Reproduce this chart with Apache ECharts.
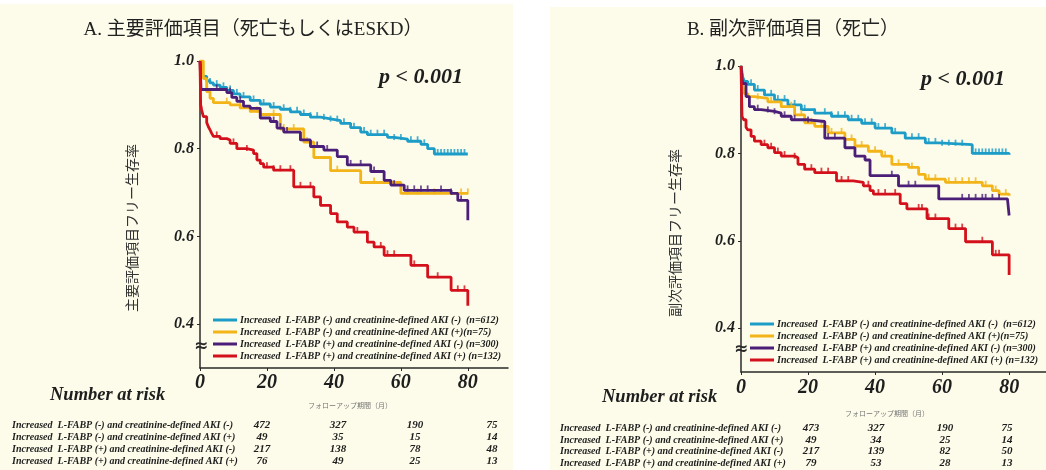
<!DOCTYPE html>
<html><head><meta charset="utf-8">
<script src="https://cdn.jsdelivr.net/npm/echarts@6/dist/echarts.min.js"></script>
<style>html,body{margin:0;padding:0;background:#fff}#c{width:1046px;height:470px}</style>
</head><body><div id="c"></div>
<script>
// ---------- data ----------
const titleA = 'A. 主要評価項目（死亡もしくはESKD）';
const titleB = 'B. 副次評価項目（死亡）';
const yNameA = '主要評価項目フリー生存率';
const yNameB = '副次評価項目フリー生存率';
const xName = 'フォローアップ期間（月）';
const pText = 'p < 0.001';
const legendNames = [
  'Increased  L-FABP (-) and creatinine-defined AKI (-)  (n=612)',
  'Increased  L-FABP (-) and creatinine-defined AKI (+)(n=75)',
  'Increased  L-FABP (+) and creatinine-defined AKI (-) (n=300)',
  'Increased  L-FABP (+) and creatinine-defined AKI (+) (n=132)'
];
const riskLabels = [
  'Increased  L-FABP (-) and creatinine-defined AKI (-)',
  'Increased  L-FABP (-) and creatinine-defined AKI (+)',
  'Increased  L-FABP (+) and creatinine-defined AKI (-)',
  'Increased  L-FABP (+) and creatinine-defined AKI (+)'
];
const xTicks = [0, 20, 40, 60, 80];
const yTicks = [0.4, 0.6, 0.8, 1.0];
const riskA = [[472, 327, 190, 75], [49, 35, 15, 14], [217, 138, 78, 48], [76, 49, 25, 13]];
const riskB = [[473, 327, 190, 75], [49, 34, 25, 14], [217, 139, 82, 50], [79, 53, 28, 13]];

// Kaplan-Meier steps [month, survival]
const A_blue = [[0,1],[0.5,0.975],[1,0.965],[2,0.955],[3,0.95],[4,0.945],[6,0.94],[8,0.933],[10,0.925],[12,0.918],[15,0.91],[18,0.902],[21,0.895],[24,0.89],[27,0.884],[30,0.878],[33,0.872],[36,0.868],[39,0.864],[42,0.858],[45,0.848],[48,0.838],[50,0.832],[56,0.826],[58,0.822],[62,0.817],[66,0.81],[68,0.8],[70,0.788],[80,0.788]];
const A_yellow = [[0,1],[1,0.96],[2,0.93],[3,0.915],[4,0.905],[9,0.9],[12,0.893],[15,0.885],[18,0.878],[24,0.845],[31,0.815],[34,0.78],[39,0.75],[48,0.723],[60,0.698],[80,0.698]];
const A_purple = [[0,1],[0.3,0.935],[8,0.928],[9.5,0.917],[11,0.908],[13,0.897],[15,0.892],[18,0.87],[21,0.862],[23,0.847],[25,0.838],[30,0.82],[33,0.805],[37,0.797],[41,0.782],[44,0.763],[51,0.748],[55,0.728],[57,0.717],[61,0.705],[75,0.698],[77,0.682],[80,0.637]];
const A_red = [[0,1],[0.2,0.9],[0.5,0.888],[1,0.873],[2,0.86],[2.5,0.85],[3,0.843],[3.5,0.835],[4,0.828],[6,0.823],[8,0.82],[9,0.812],[11,0.8],[14,0.797],[16,0.789],[17,0.774],[18,0.766],[19,0.758],[22,0.751],[28,0.713],[34,0.69],[36,0.671],[39,0.652],[41,0.633],[44,0.621],[46,0.61],[50,0.587],[52,0.576],[55,0.557],[63,0.534],[68,0.507],[75,0.477],[80,0.442]];

const B_blue = [[0,1],[0.5,0.975],[1,0.965],[2,0.958],[4,0.945],[7,0.934],[10,0.922],[14,0.911],[18,0.9],[22,0.892],[27,0.885],[32,0.877],[36,0.869],[40,0.858],[45,0.847],[49,0.835],[55,0.824],[59,0.82],[69,0.8],[80,0.797]];
const B_yellow = [[0,1],[0.5,0.96],[1,0.937],[2,0.93],[4,0.926],[8,0.918],[12,0.907],[16,0.888],[19,0.87],[22,0.862],[26,0.847],[31,0.832],[34,0.817],[38,0.805],[42,0.794],[45,0.775],[50,0.768],[53,0.752],[55,0.741],[61,0.734],[72,0.726],[75,0.715],[77,0.707],[80,0.703]];
const B_purple = [[0,1],[0.5,0.96],[1.5,0.93],[2.5,0.907],[4,0.9],[6,0.896],[10,0.892],[12,0.885],[15,0.877],[20,0.873],[25,0.835],[31,0.813],[34,0.794],[37,0.785],[38.5,0.749],[47,0.726],[59,0.696],[79.5,0.692],[80,0.658]];
const B_red = [[0,1],[0.3,0.885],[0.8,0.877],[1.5,0.86],[2,0.854],[3,0.839],[4,0.828],[6,0.82],[8,0.813],[10,0.802],[12,0.794],[16,0.79],[17,0.775],[19,0.764],[22,0.756],[28.5,0.737],[33.5,0.734],[36.5,0.726],[38.5,0.715],[39.5,0.707],[47.5,0.685],[49.5,0.673],[55.5,0.651],[62,0.628],[67,0.598],[75,0.568],[80,0.522]];

// censoring times (months)
const A_blue_c = [3,5,7,9,11,13,16,19,22,25,27,29,31,33,35,37,39,41,43,46,49,51,53,55,58,60,63,65,67,71,72,73,74,75,76,77,78,79];
const A_yellow_c = [8,12,15,17,22,25,28,32,41,48,52,55,62,65,70,78,80];
const A_purple_c = [5,9,12,18,22,24,26,30,33,35,38,45,48,52,58,62,64,66,68,72,75,78];
const A_red_c = [5,10,14,20,22,24,27,30,33,36,47,52,54,56,58,64,71,77,79];
const B_blue_c = [3,5,7,9,11,13,16,19,22,25,27,29,31,33,35,37,39,41,43,46,49,51,53,56,58,60,62,64,66,70,71,72,73,74,75,76,77,78,79];
const B_yellow_c = [5,9,12,15,18,21,24,27,30,33,36,40,43,47,51,56,58,62,64,66,68,70,73,76,79];
const B_purple_c = [5,8,10,13,16,20,26,28,45,47,50,52,66,68,70,72,73,75,77];
const B_red_c = [7,9,11,13,16,19,21,24,26,30,32,38,41,43,46,53,54,56,58,64,66,72,76,77];

// ---------- styles ----------
const colors = ['#1d9cc8', '#f2b418', '#4b1f78', '#d3101b'];
const cream = '#fdfcea';
const serifBI = {fontFamily: 'Liberation Serif', fontWeight: 'bold', fontStyle: 'italic', color: '#1e1e1e'};
const cjk = "'Liberation Serif','Noto Sans CJK JP'";

function survAt(d, t) { let s = d[0][1]; for (const p of d) { if (p[0] <= t) s = p[1]; } return s; }

const curvesA = [A_blue, A_yellow, A_purple, A_red];
const curvesB = [B_blue, B_yellow, B_purple, B_red];
const censA = [A_blue_c, A_yellow_c, A_purple_c, A_red_c];
const censB = [B_blue_c, B_yellow_c, B_purple_c, B_red_c];

const series = [];
[[curvesA, censA, 0], [curvesB, censB, 1]].forEach(([curves, cens, gi]) => {
  curves.forEach((d, i) => {
    series.push({type: 'line', name: legendNames[i], xAxisIndex: gi, yAxisIndex: gi, data: d, step: 'end',
      symbol: 'none', lineStyle: {width: 2.8, color: colors[i]}, itemStyle: {color: colors[i]}, z: 3 + i, animation: false});
    series.push({type: 'scatter', name: legendNames[i], xAxisIndex: gi, yAxisIndex: gi,
      data: cens[i].map(t => [t, survAt(d, t)]), symbol: 'rect', symbolSize: [1.8, 6], symbolOffset: [0, -2],
      itemStyle: {color: colors[i]}, z: 3 + i, animation: false});
  });
});

function xAxis(gi, max, margin) {
  return {type: 'value', gridIndex: gi, min: 0, max: max,
    axisLine: {show: true, lineStyle: {color: '#2a2a2a', width: 1.5}},
    axisTick: {show: true, customValues: xTicks, length: 3, inside: false, lineStyle: {color: '#2a2a2a'}},
    axisLabel: Object.assign({customValues: xTicks, fontSize: 20, margin: margin}, serifBI),
    splitLine: {show: false}};
}
function yAxis(gi) {
  return {type: 'value', gridIndex: gi, min: 0.3, max: 1.0,
    axisLine: {show: true, lineStyle: {color: '#2a2a2a', width: 1.5}},
    axisTick: {show: true, customValues: yTicks, length: 3, lineStyle: {color: '#2a2a2a'}},
    axisLabel: Object.assign({customValues: yTicks, fontSize: 16, margin: 6, formatter: v => v.toFixed(1)}, serifBI),
    splitLine: {show: false}};
}
function legend(left, top) {
  return {left: left, top: top, orient: 'vertical', padding: 0, itemGap: 0, itemWidth: 24, itemHeight: 3, icon: 'rect',
    data: legendNames, selectedMode: false,
    textStyle: Object.assign({fontSize: 10, lineHeight: 12, padding: [0, 0, 0, -2]}, serifBI)};
}

const graphic = [
  {type: 'rect', shape: {x: 0, y: 4, width: 513, height: 466}, style: {fill: cream}, z: -10},
  {type: 'rect', shape: {x: 550, y: 7, width: 496, height: 463}, style: {fill: cream}, z: -10},
  {type: 'text', x: 133, y: 228, rotation: Math.PI / 2, style: {text: yNameA, font: "14px " + cjk, fill: '#333', align: 'center', verticalAlign: 'middle'}},
  {type: 'text', x: 676, y: 233, rotation: Math.PI / 2, style: {text: yNameB, font: "14px " + cjk, fill: '#333', align: 'center', verticalAlign: 'middle'}},
  {type: 'text', x: 463, y: 77, style: {text: pText, font: "italic bold 22px 'Liberation Serif'", fill: '#1e1e1e', align: 'right', verticalAlign: 'middle'}, z: 10},
  {type: 'text', x: 1005, y: 79, style: {text: pText, font: "italic bold 22px 'Liberation Serif'", fill: '#1e1e1e', align: 'right', verticalAlign: 'middle'}, z: 10},
  {type: 'text', x: 201, y: 347, style: {text: '≈', font: "bold 17px 'DejaVu Sans'", fill: '#2a2a2a', align: 'center', verticalAlign: 'middle'}, z: 10},
  {type: 'text', x: 741, y: 350, style: {text: '≈', font: "bold 17px 'DejaVu Sans'", fill: '#2a2a2a', align: 'center', verticalAlign: 'middle'}, z: 10},
  {type: 'text', x: 350, y: 405, style: {text: xName, font: "7px 'Noto Sans CJK JP'", fill: '#777', align: 'center', verticalAlign: 'middle'}},
  {type: 'text', x: 887, y: 413, style: {text: xName, font: "7px 'Noto Sans CJK JP'", fill: '#777', align: 'center', verticalAlign: 'middle'}},
  {type: 'text', x: 50, y: 395, style: {text: 'Number at risk', font: "italic bold 18.5px 'Liberation Serif'", fill: '#1e1e1e', align: 'left', verticalAlign: 'middle'}},
  {type: 'text', x: 602, y: 397, style: {text: 'Number at risk', font: "italic bold 18.5px 'Liberation Serif'", fill: '#1e1e1e', align: 'left', verticalAlign: 'middle'}}
];
const tableA = {labelX: 12, cols: [262, 338, 415, 492], rows: [425, 437, 449, 461], data: riskA};
const tableB = {labelX: 560, cols: [811, 876, 945, 1007], rows: [428, 440, 451, 463], data: riskB};
[tableA, tableB].forEach(tb => {
  riskLabels.forEach((lab, r) => {
    graphic.push({type: 'text', x: tb.labelX, y: tb.rows[r], style: {text: lab, font: "italic bold 10px 'Liberation Serif'", fill: '#1e1e1e', align: 'left', verticalAlign: 'middle'}});
    tb.data[r].forEach((v, c) => {
      graphic.push({type: 'text', x: tb.cols[c], y: tb.rows[r], style: {text: String(v), font: "italic bold 11px 'Liberation Serif'", fill: '#1e1e1e', align: 'center', verticalAlign: 'middle'}});
    });
  });
});

const chart = echarts.init(document.getElementById('c'), null, {renderer: 'canvas'});
chart.setOption({
  animation: false,
  backgroundColor: '#ffffff',
  title: [
    {text: titleA, left: 253, top: 21, textAlign: 'center', padding: 0, textStyle: {fontFamily: cjk, fontWeight: 'normal', fontSize: 19, color: '#222'}},
    {text: titleB, left: 793, top: 21, textAlign: 'center', padding: 0, textStyle: {fontFamily: cjk, fontWeight: 'normal', fontSize: 19, color: '#222'}}
  ],
  grid: [
    {left: 200, top: 61, width: 308, height: 307, containLabel: false},
    {left: 741, top: 66, width: 305, height: 306, containLabel: false}
  ],
  xAxis: [xAxis(0, 92, 5), xAxis(1, 91, 6)],
  yAxis: [yAxis(0), yAxis(1)],
  legend: [legend(213, 314), legend(750, 318)],
  series: series,
  graphic: graphic
});
</script></body></html>
